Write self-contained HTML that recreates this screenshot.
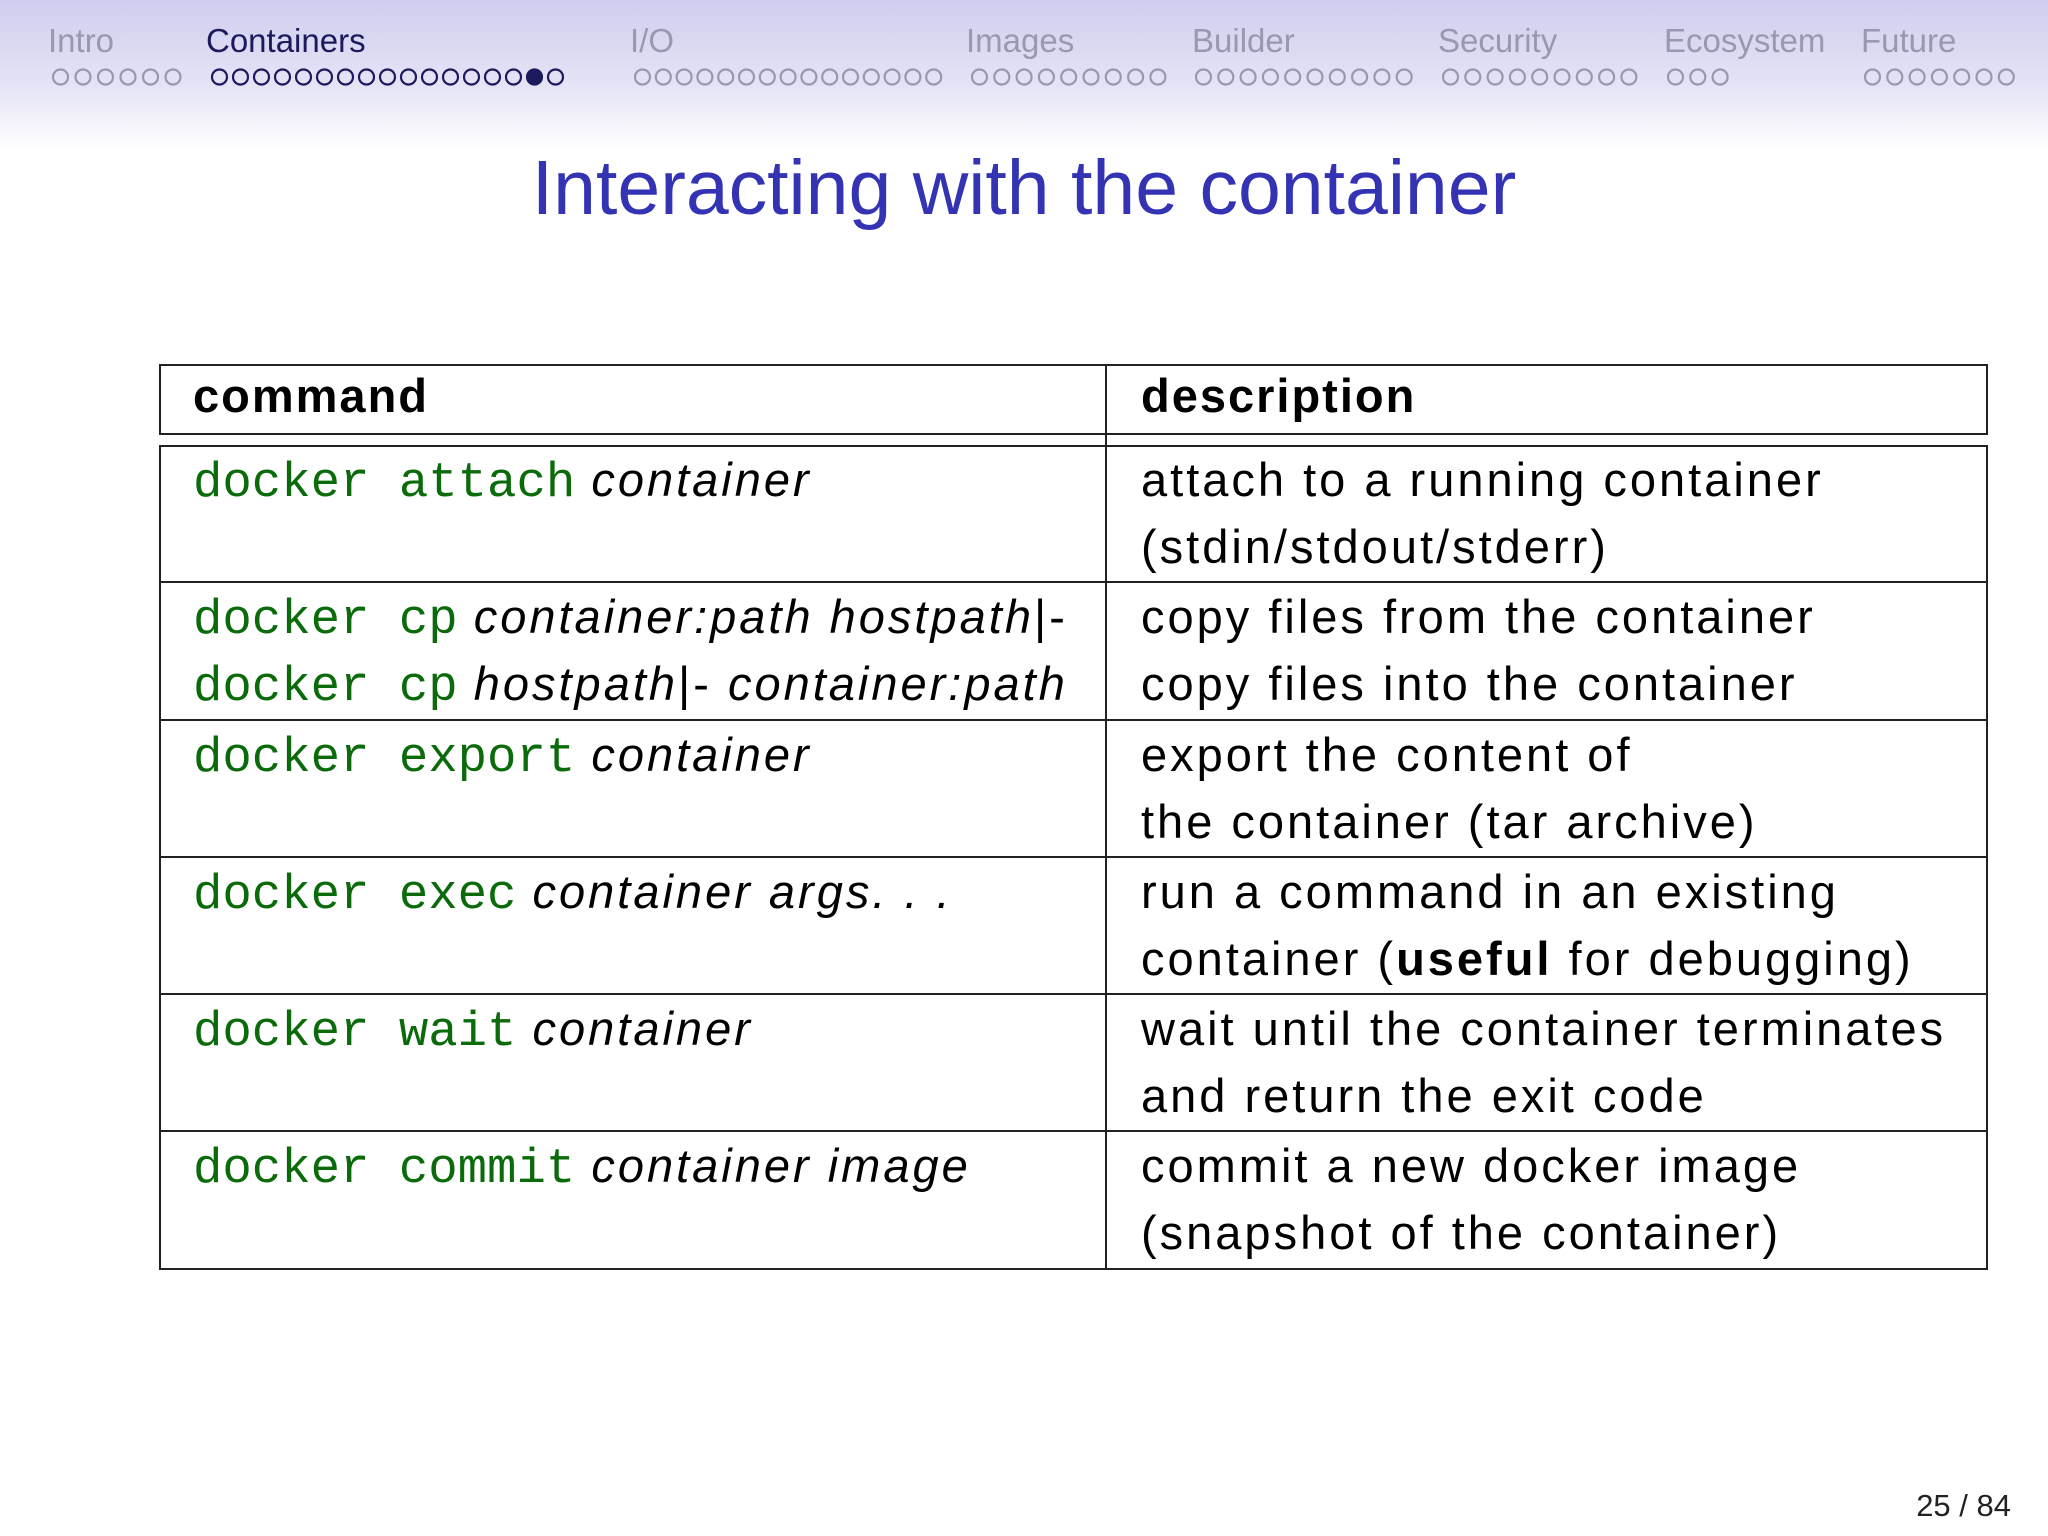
<!DOCTYPE html>
<html><head><meta charset="utf-8"><style>
body{margin:0;width:2048px;height:1536px;position:relative;background:#fff;overflow:hidden;font-family:"Liberation Sans",sans-serif}
.hdr{position:absolute;left:0;top:0;width:2048px;height:150px;background:linear-gradient(#cfcdee,#e6e5f6 60%,#fff)}
.nav{position:absolute;top:24px;font-size:33px;color:#9a98b0;line-height:1}
.t{position:absolute;line-height:1;white-space:nowrap;font-size:47px;color:#000;letter-spacing:3px}
.m{font-family:"Liberation Mono",monospace;color:#0b6b0b;font-size:49px;letter-spacing:0}
i{font-style:italic}
.hl{position:absolute;background:#222}
</style></head><body>
<div class="hdr"></div>
<div class="nav" style="left:48px">Intro</div>
<div class="nav" style="left:206px;color:#1c1a5c">Containers</div>
<div class="nav" style="left:630px">I/O</div>
<div class="nav" style="left:966px">Images</div>
<div class="nav" style="left:1192px">Builder</div>
<div class="nav" style="left:1438px">Security</div>
<div class="nav" style="left:1664px">Ecosystem</div>
<div class="nav" style="left:1861px">Future</div>
<svg style="position:absolute;left:0;top:0" width="2048" height="120">
<g fill="none" stroke="#9a98b0" stroke-width="2.2" id="d"></g>
</svg>
<script>
var g=document.getElementById('d');
var S=[[53,6,22.5],[212,17,21],[635,15,20.8],[972,9,22.3],[1196,10,22.3],[1443,9,22.3],[1668,3,22.3],[1865,7,22.3]];
S.forEach(function(s,k){for(var i=0;i<s[1];i++){var c=document.createElementNS('http://www.w3.org/2000/svg','circle');c.setAttribute('cx',s[0]+7.5+i*s[2]);c.setAttribute('cy',77);c.setAttribute('r',7.5);if(k==1){c.setAttribute('stroke','#1c1a5c');if(i==15)c.setAttribute('fill','#1c1a5c');}g.appendChild(c);}});
</script>
<div class="t" style="left:0;width:2048px;text-align:center;top:150px;font-size:77px;color:#3333b3;letter-spacing:0">Interacting with the container</div>

<div style="position:absolute;left:159px;top:364px;width:1829px;height:71px;border:2px solid #222;box-sizing:border-box"></div>
<div style="position:absolute;left:159px;top:445px;width:1829px;height:825px;border:2px solid #222;box-sizing:border-box"></div>
<div class="hl" style="left:1105px;top:364px;width:2px;height:906px"></div>
<div class="hl" style="left:159px;top:581px;width:1829px;height:2px"></div>
<div class="hl" style="left:159px;top:719px;width:1829px;height:2px"></div>
<div class="hl" style="left:159px;top:856px;width:1829px;height:2px"></div>
<div class="hl" style="left:159px;top:993px;width:1829px;height:2px"></div>
<div class="hl" style="left:159px;top:1130px;width:1829px;height:2px"></div>

<div class="t" style="left:193px;top:372px;font-weight:bold;letter-spacing:2px">command</div>
<div class="t" style="left:1141px;top:372px;font-weight:bold;letter-spacing:2px">description</div>

<div class="t" style="left:193px;top:456px"><span class="m">docker attach</span> <i>container</i></div>
<div class="t" style="left:1141px;top:456px">attach to a running container</div>
<div class="t" style="left:1141px;top:523px">(stdin/stdout/stderr)</div>

<div class="t" style="left:193px;top:593px"><span class="m">docker cp</span> <i>container:path hostpath</i>|-</div>
<div class="t" style="left:193px;top:660px"><span class="m">docker cp</span> <i>hostpath</i>|- <i>container:path</i></div>
<div class="t" style="left:1141px;top:593px">copy files from the container</div>
<div class="t" style="left:1141px;top:660px">copy files into the container</div>

<div class="t" style="left:193px;top:731px"><span class="m">docker export</span> <i>container</i></div>
<div class="t" style="left:1141px;top:731px">export the content of</div>
<div class="t" style="left:1141px;top:798px">the container (tar archive)</div>

<div class="t" style="left:193px;top:868px"><span class="m">docker exec</span> <i>container args. . .</i></div>
<div class="t" style="left:1141px;top:868px">run a command in an existing</div>
<div class="t" style="left:1141px;top:935px">container (<b>useful</b> for debugging)</div>

<div class="t" style="left:193px;top:1005px"><span class="m">docker wait</span> <i>container</i></div>
<div class="t" style="left:1141px;top:1005px">wait until the container terminates</div>
<div class="t" style="left:1141px;top:1072px">and return the exit code</div>

<div class="t" style="left:193px;top:1142px"><span class="m">docker commit</span> <i>container image</i></div>
<div class="t" style="left:1141px;top:1142px">commit a new docker image</div>
<div class="t" style="left:1141px;top:1209px">(snapshot of the container)</div>

<div class="t" style="right:37px;top:1490px;font-size:31px;color:#222;letter-spacing:0">25 / 84</div>
</body></html>
